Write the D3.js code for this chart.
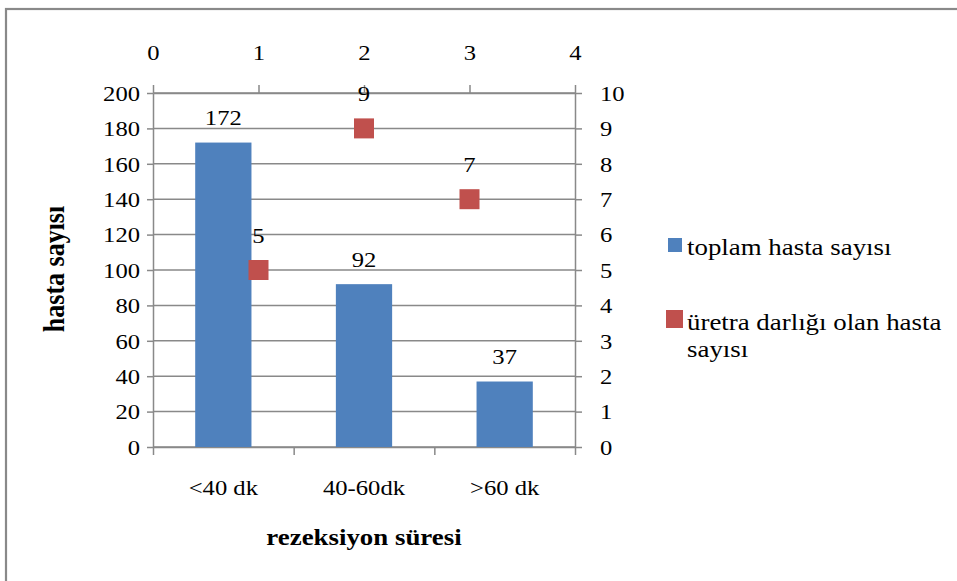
<!DOCTYPE html>
<html>
<head>
<meta charset="utf-8">
<script src="https://cdn.jsdelivr.net/npm/d3@7"></script>
<style>
  html, body { margin: 0; padding: 0; background: #fff; }
  svg { display: block; }
  svg text { font-family: "Times New Roman", "Liberation Serif", Tinos, "Nimbus Roman", "DejaVu Serif", serif !important; fill: #000; }
</style>
</head>
<body>
<svg id="chart" width="957" height="581"></svg>
<script>
// Categories and series
const categories = ["<40 dk", "40-60dk", ">60 dk"];
const totalPatients = [172, 92, 37];          // toplam hasta sayısı (left axis)
const strictureX = [1, 2, 3];                 // position on top secondary axis
const stricturePatients = [5, 9, 7];          // üretra darlığı olan hasta sayısı (right axis)
const leftTicks = [0, 20, 40, 60, 80, 100, 120, 140, 160, 180, 200];
const rightTicks = [0, 1, 2, 3, 4, 5, 6, 7, 8, 9, 10];
const topTicks = [0, 1, 2, 3, 4];
const seriesNames = ["toplam hasta sayısı", "üretra darlığı olan hasta sayısı"];

const BLUE = "#4F81BD", RED = "#C0504D", GRID = "#898989";
const SX = 1.12; // horizontal text stretch
const SERIF = '"Times New Roman", "Liberation Serif", Tinos, "Nimbus Roman", "DejaVu Serif", serif';

const svg = d3.select("#chart");
svg.append("rect").attr("width", 957).attr("height", 581).attr("fill", "#fff");

// outer chart frame
svg.append("rect")
  .attr("x", 6).attr("y", 9).attr("width", 1000).attr("height", 600)
  .attr("fill", "none").attr("stroke", GRID).attr("stroke-width", 2.2);

const L = 153, R = 575, T = 93, B = 447;

const x = d3.scaleBand().domain(categories).range([L, R]).paddingInner(0.6).paddingOuter(0.3);
const xEdge = d3.scaleLinear().domain([0, 3]).range([L, R]);
const x2 = d3.scaleLinear().domain([0, 4]).range([L, R]);
const y = d3.scaleLinear().domain([0, 200]).range([B, T]);
const y2 = d3.scaleLinear().domain([0, 10]).range([B, T]);

function stretchText(sel) {
  sel.attr("transform", `scale(${SX},1)`);
}

// gridlines
svg.append("g").selectAll("line").data(leftTicks).join("line")
  .attr("x1", L).attr("x2", R)
  .attr("y1", d => y(d)).attr("y2", d => y(d))
  .attr("stroke", GRID).attr("stroke-width", 1.5);

function styleAxis(g) {
  g.attr("font-family", SERIF);
  g.selectAll(".domain").attr("stroke", GRID).attr("stroke-width", 1.5);
  g.selectAll(".tick line").attr("stroke", GRID).attr("stroke-width", 1.5);
  g.selectAll("text").attr("font-family", SERIF).attr("font-size", 22).attr("fill", "#000");
}

// left axis
const gLeft = svg.append("g").attr("transform", `translate(${L},0)`)
  .call(d3.axisLeft(y).tickValues(leftTicks).tickSize(6).tickSizeOuter(0).tickFormat(d3.format("d")));
styleAxis(gLeft);
gLeft.selectAll("text").attr("x", -13 / SX).attr("dy", "0.33em").call(stretchText);

// right axis
const gRight = svg.append("g").attr("transform", `translate(${R},0)`)
  .call(d3.axisRight(y2).tickValues(rightTicks).tickSize(7).tickSizeOuter(0).tickFormat(d3.format("d")));
styleAxis(gRight);
gRight.selectAll("text").attr("x", 25 / SX).attr("dy", "0.33em").call(stretchText);

// top secondary axis
const gTop = svg.append("g").attr("transform", `translate(0,${T})`)
  .call(d3.axisTop(x2).tickValues(topTicks).tickSize(8).tickSizeOuter(0).tickFormat(d3.format("d")));
styleAxis(gTop);
gTop.selectAll("text").attr("y", -33).attr("dy", 0).call(stretchText);

// bottom axis: ticks between categories
const gBottom = svg.append("g").attr("transform", `translate(0,${B})`)
  .call(d3.axisBottom(xEdge).tickValues([0, 1, 2, 3]).tickSize(8).tickSizeOuter(0).tickFormat(""));
styleAxis(gBottom);

// category labels
const gCat = svg.append("g").attr("transform", `translate(0,${B})`)
  .call(d3.axisBottom(x).tickSize(0));
gCat.select(".domain").remove();
styleAxis(gCat);
gCat.selectAll("text").attr("y", 48).attr("dy", 0).call(stretchText);

// bars
svg.append("g").selectAll("rect").data(totalPatients).join("rect")
  .attr("x", (d, i) => x(categories[i]))
  .attr("y", d => y(d))
  .attr("width", x.bandwidth())
  .attr("height", d => B - y(d))
  .attr("fill", BLUE);

// bar value labels
svg.append("g").attr("font-family", SERIF).selectAll("text").data(totalPatients).join("text")
  .attr("text-anchor", "middle").attr("font-size", 22)
  .attr("transform", (d, i) => `translate(${x(categories[i]) + x.bandwidth() / 2},${y(d) - 17.5}) scale(${SX},1)`)
  .text(d => d);

// square markers
const MS = 20;
svg.append("g").selectAll("rect").data(stricturePatients).join("rect")
  .attr("x", (d, i) => x2(strictureX[i]) - MS / 2)
  .attr("y", d => y2(d) - MS / 2)
  .attr("width", MS).attr("height", MS)
  .attr("fill", RED);

// marker value labels
svg.append("g").attr("font-family", SERIF).selectAll("text").data(stricturePatients).join("text")
  .attr("text-anchor", "middle").attr("font-size", 22)
  .attr("transform", (d, i) => `translate(${x2(strictureX[i])},${y2(d) - 27}) scale(${SX},1)`)
  .text(d => d);

// axis titles
svg.append("text")
  .attr("font-family", SERIF)
  .attr("text-anchor", "middle").attr("font-size", 24).attr("font-weight", "bold")
  .attr("transform", `translate(${(L + R) / 2},545) scale(${SX},1)`)
  .text("rezeksiyon süresi");

svg.append("text")
  .attr("font-family", SERIF)
  .attr("text-anchor", "middle").attr("font-size", 26).attr("font-weight", "bold")
  .attr("transform", `translate(64,269) scale(${SX},1) rotate(-90)`)
  .text("hasta sayısı");

// legend
const lg = svg.append("g").attr("font-family", SERIF);
lg.append("rect").attr("x", 668).attr("y", 238).attr("width", 14).attr("height", 14).attr("fill", BLUE);
lg.append("text").attr("font-size", 24)
  .attr("transform", `translate(687,255) scale(${SX},1)`)
  .text(seriesNames[0]);
lg.append("rect").attr("x", 666).attr("y", 310).attr("width", 17).attr("height", 18).attr("fill", RED);
const t2 = lg.append("text").attr("font-size", 24)
  .attr("transform", `translate(687,330) scale(${SX},1)`);
t2.append("tspan").attr("x", 0).attr("y", 0).text("üretra darlığı olan hasta");
t2.append("tspan").attr("x", 0).attr("y", 27).text("sayısı");
</script>
</body>
</html>
